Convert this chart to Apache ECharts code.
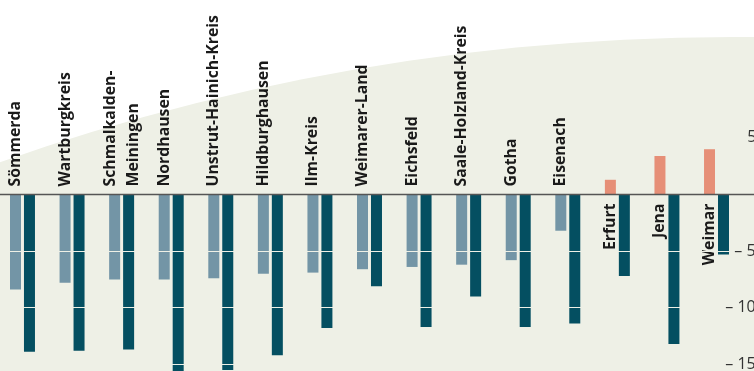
<!DOCTYPE html>
<html>
<head>
<meta charset="utf-8">
<script src="https://cdn.jsdelivr.net/npm/echarts@6/dist/echarts.min.js"></script>
<style>
html,body{margin:0;padding:0;background:#fff;}
#chart{width:754px;height:371px;}
</style>
</head>
<body>
<div id="chart"></div>
<script>
// Landkreise / kreisfreie Städte
const districts = ['Sömmerda','Wartburgkreis','Schmalkalden-\nMeiningen','Nordhausen','Unstrut-Hainich-Kreis',
    'Hildburghausen','Ilm-Kreis','Weimarer-Land','Eichsfeld','Saale-Holzland-Kreis','Gotha','Eisenach',
    'Erfurt','Jena','Weimar'];
// first bar (blue-grey, salmon when positive)
const changeA = [-8.4,-7.8,-7.5,-7.5,-7.4,-7.0,-6.9,-6.6,-6.4,-6.2,-5.8,-3.2,1.3,3.4,4.0];
// second bar (dark teal)
const changeB = [-13.9,-13.8,-13.7,-16.2,-15.5,-14.2,-11.8,-8.1,-11.7,-9.0,-11.7,-11.4,-7.2,-13.2,-5.3];

const bg = '#eef0e6';
const light = '#7395a6';
const dark = '#044f61';
const salmon = '#e68f77';
const font = '"Open Sans", sans-serif';

const initChart = () => {
    const chart = echarts.init(document.getElementById('chart'));

    const dataA = changeA.map(v => ({
        value: v,
        itemStyle: {color: v > 0 ? salmon : light},
        label: v > 0
            ? {position: 'bottom', align: 'right', distance: 9}
            : {position: 'top', align: 'left', distance: 8}
    }));
    // two-line label sits a bit more to the right (offset is in the rotated frame)
    dataA[2].label.offset = [0, 7];

    chart.setOption({
        animation: false,
        grid: {left: -2.3, width: 743.6, top: 137.9, height: 283, containLabel: false, outerBoundsMode: 'none'},
        xAxis: {
            type: 'category',
            data: districts,
            axisLine: {show: false},
            axisTick: {show: false},
            axisLabel: {show: false}
        },
        yAxis: {
            type: 'value',
            position: 'right',
            min: -20, max: 5, interval: 5,
            z: 10,
            axisLine: {show: false},
            axisTick: {show: false},
            // lines from -20 up to 5; the top one is hidden
            splitLine: {lineStyle: {color: [bg, bg, bg, bg, bg, 'rgba(0,0,0,0)'], width: 1}},
            axisLabel: {
                margin: -16,
                align: 'left',
                fontFamily: font,
                fontSize: 16,
                color: '#333',
                formatter: v => v === 0 ? '' : v > 0 ? '{pos|' + v + '}'
                    : (v > -10 ? '{one|– ' + (-v) + '}' : '– ' + (-v)),
                rich: {
                    pos: {padding: [0, 0, 0, 22], fontFamily: font, fontSize: 16, color: '#333'},
                    one: {padding: [0, 0, 0, 9], fontFamily: font, fontSize: 16, color: '#333'}
                }
            }
        },
        series: [
            {
                type: 'bar',
                data: dataA,
                barWidth: 11,
                barGap: '27%',
                label: {
                    show: true,
                    rotate: 90,
                    verticalAlign: 'middle',
                    fontFamily: font,
                    fontWeight: 'bold',
                    fontSize: 15.8,
                    lineHeight: 23,
                    color: '#1a1a1a',
                    formatter: p => districts[p.dataIndex]
                }
            },
            {
                type: 'bar',
                data: changeB,
                barWidth: 11,
                itemStyle: {color: dark}
            }
        ]
    });

    const y0 = chart.convertToPixel({yAxisIndex: 0}, 0);
    chart.setOption({
        graphic: [
            {type: 'circle', z: -100, silent: true, shape: {cx: 732, cy: 2240, r: 2203}, style: {fill: bg}},
            {type: 'line', z: 100, silent: true, shape: {x1: 0, y1: y0, x2: 754, y2: y0},
                style: {stroke: '#555', lineWidth: 1.3}}
        ]
    });
};

window.addEventListener('load', () => {
    initChart();
});
</script>
</body>
</html>
